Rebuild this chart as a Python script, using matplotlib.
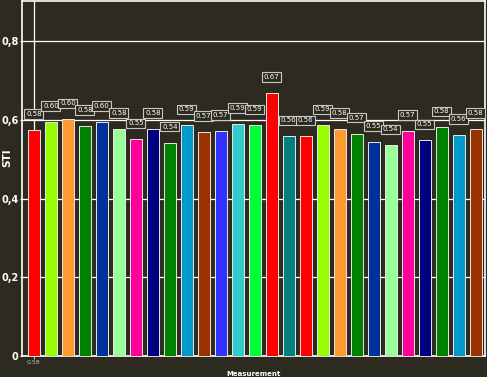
import matplotlib
matplotlib.use("Agg")
import matplotlib.pyplot as plt
import numpy as np

values = [0.574, 0.594, 0.601, 0.584, 0.594, 0.576, 0.550, 0.576, 0.542, 0.586,
          0.569, 0.572, 0.589, 0.586, 0.668, 0.558, 0.558, 0.586, 0.576, 0.565,
          0.543, 0.535, 0.571, 0.548, 0.581, 0.561, 0.576]
labels = ["0.58", "0.60", "0.60", "0.58", "0.60", "0.58", "0.55", "0.58", "0.54", "0.59",
          "0.57", "0.57", "0.59", "0.59", "0.67", "0.56", "0.56", "0.59", "0.58", "0.57",
          "0.55", "0.54", "0.57", "0.55", "0.58", "0.56", "0.58"]
colors = ["#ff0000", "#99ff00", "#ff9933", "#008000", "#003399", "#99ff99", "#ff0099",
          "#000080", "#008000", "#0099cc", "#993300", "#3333ff", "#33cccc", "#00ff33",
          "#ff0000", "#008080", "#ff0000", "#99ff00", "#ff9933", "#008000", "#003399",
          "#99ff99", "#ff0099", "#000080", "#008000", "#0099cc", "#993300"]
yticks = [0, 0.2, 0.4, 0.6, 0.8]
ytick_labels = ["0", "0,2", "0,4", "0,6", "0,8"]
xtick_label = "0.58"

bg = "#2d2b1f"
fig = plt.figure(figsize=(4.87, 3.77), dpi=100, facecolor=bg)
ax = fig.add_axes([22/487, 1 - 356/377, 463/487, 355/377])
ax.set_facecolor(bg)

x = np.arange(len(values))
ax.bar(x, values, width=0.7, color=colors, edgecolor="#e8e8e8", linewidth=0.7, zorder=3)

for xi, v, lab in zip(x, values, labels):
    ax.annotate(lab, (xi, v), xytext=(0, 11.5), textcoords="offset points",
                ha="center", va="center", color="white", fontsize=5,
                bbox=dict(boxstyle="square,pad=0.25", fc=bg, ec="#c8c8c8", lw=0.8),
                zorder=5)

ax.set_xlim(-0.7, 26.55)
ax.set_ylim(0, 0.9016)
ax.set_yticks(yticks)
ax.set_yticklabels(ytick_labels, color="white", fontsize=7, fontweight="bold")
ax.set_xticks([0])
ax.set_xticklabels([xtick_label], color="#dddddd", fontsize=4.5)
ax.tick_params(axis="y", colors="white", length=1.5, width=0.8, pad=1)
ax.tick_params(axis="x", colors="#bbbbbb", length=2, width=0.8, pad=1)
for lab in ax.get_yticklabels():
    lab.set_color("white")

ax.grid(True, color="white", linewidth=0.9, zorder=1)
ax.set_axisbelow(True)
for s in ax.spines.values():
    s.set_color("white")
    s.set_linewidth(1.2)

ax.set_ylabel("STI", color="white", fontsize=7.5, fontweight="bold")
ax.yaxis.set_label_coords(-0.02, 0.56)
ax.set_xlabel("Measurement", color="white", fontsize=5, fontweight="bold", labelpad=4)

fig.savefig("out.png", dpi=100, facecolor=bg)
